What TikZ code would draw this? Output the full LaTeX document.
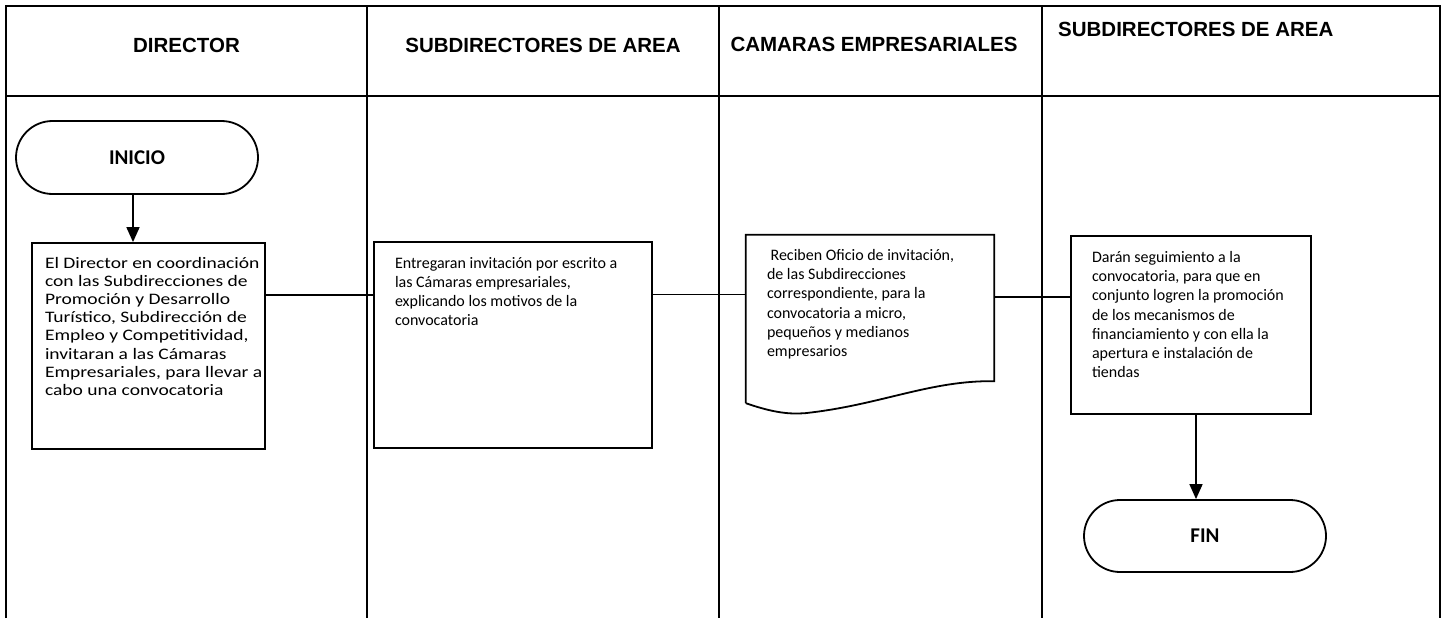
\documentclass[tikz,border=0pt]{standalone}
\usepackage{fontspec}
\setmainfont{Carlito}
\newfontfamily\hdrfont{Liberation Sans}
\newfontfamily\widefont[FakeStretch=1.22]{Carlito}
\usetikzlibrary{arrows.meta,shapes.misc,calc}
\newcommand{\flowtext}[5]{\parbox[c][#2][t]{#1}{\vspace*{#4}\raggedright\leftskip=#3\relax #5\par}}
\tikzset{
  frame/.style={line width=2pt},
  hdr/.style={inner sep=0pt,font=\hdrfont\bfseries\fontsize{20.5}{24}\selectfont},
  procbox/.style={draw,line width=1.8pt,inner sep=0pt},
  term/.style={draw,line width=1.8pt,rounded rectangle,minimum width=242pt,minimum height=73pt,inner sep=0pt,font=\bfseries\fontsize{21}{25}\selectfont},
  link/.style={line width=1.5pt},
  arr/.style={line width=1.6pt,-{Triangle[length=15pt,width=13pt]}},
  bodyfont/.style={font=\fontsize{16}{19.3}\selectfont}
}
\begin{document}
\begin{tikzpicture}[x=1pt,y=-1pt]
\useasboundingbox (0,0) rectangle (1442,618);
% table frame
\draw[frame] (6,618) -- (6,6) -- (1440,6) -- (1440,618);
\draw[frame] (6,96) -- (1440,96);
\draw[frame] (367,6) -- (367,618);
\draw[frame] (719,6) -- (719,618);
\draw[frame] (1042,6) -- (1042,618);
% headers
\node[hdr] (h1) at (186.5,45) {DIRECTOR};
\node[hdr] (h2) at (543,45) {SUBDIRECTORES DE AREA};
\node[hdr] (h3) at (874,44) {CAMARAS EMPRESARIALES};
\node[hdr,anchor=west] (h4) at (1058,29) {SUBDIRECTORES DE AREA};
% start
\node[term] (inicio) at (137,157.5) {INICIO};
% box 1
\node[procbox,font=\widefont\fontsize{16}{18.2}\selectfont] (box1) at (148.5,346)
 {\flowtext{233pt}{206pt}{13pt}{14pt}{El Director en coordinación\\con las Subdirecciones de\\Promoción y Desarrollo\\Turístico, Subdirección de\\Empleo y Competitividad,\\invitaran a las Cámaras\\Empresariales, para llevar a\\cabo una convocatoria}};
% box 2
\node[procbox,bodyfont] (box2) at (513,345)
 {\flowtext{278pt}{206pt}{21pt}{15pt}{Entregaran invitación por escrito a\\las Cámaras empresariales,\\explicando los motivos de la\\convocatoria}};
% document
\node[inner sep=0pt,bodyfont] (doc) at (870,308)
 {\flowtext{248pt}{146pt}{21pt}{14pt}{\hspace*{3.6pt}Reciben Oficio de invitación,\\de las Subdirecciones\\correspondiente, para la\\convocatoria a micro,\\pequeños y medianos\\empresarios}};
\draw[line width=1.8pt] ($(doc.south west)+(0,22)$) -- (doc.north west) -- (doc.north east) -- (doc.south east)
  .. controls ($(doc.south west)+(184,-1)$) and ($(doc.south west)+(134,24)$) .. ($(doc.south west)+(59,32)$)
  .. controls ($(doc.south west)+(44,33)$) and ($(doc.south west)+(29,32)$) .. ($(doc.south west)+(0,22)$);
% box 4
\node[procbox,bodyfont] (box4) at (1191,325)
 {\flowtext{240pt}{178pt}{21pt}{15pt}{Darán seguimiento a la\\convocatoria, para que en\\conjunto logren la promoción\\de los mecanismos de\\financiamiento y con ella la\\apertura e instalación de\\tiendas}};
% end
\node[term,minimum height=72pt] (fin) at (1205,536) {FIN};
% connectors
\draw[arr] ([xshift=-4pt]inicio.south) -- ([xshift=-4pt]inicio.south |- box1.north);
\draw[link] ([yshift=51pt]box1.east) -- ([yshift=51pt]box1.east -| box2.west);
\draw[link] ([yshift=50.5pt]box2.east) -- ([yshift=50.5pt]box2.east -| doc.west);
\draw[link] ([yshift=11pt]doc.east) -- ([yshift=11pt]doc.east -| box4.west);
\draw[arr] ([xshift=5pt]box4.south) -- ([xshift=5pt]box4.south |- fin.north);
\end{tikzpicture}
\end{document}
